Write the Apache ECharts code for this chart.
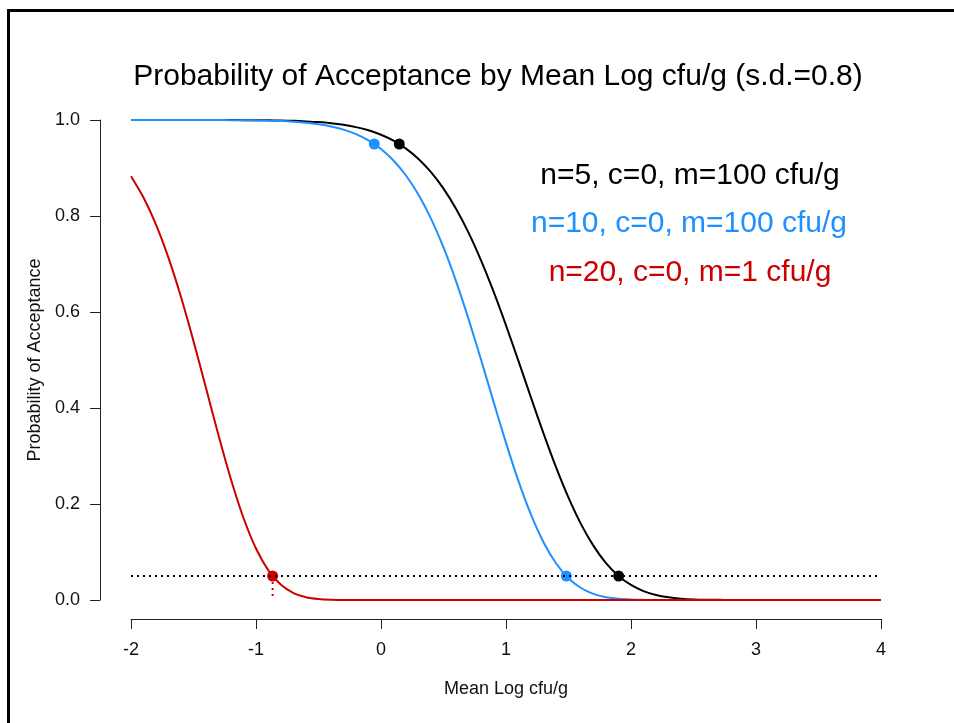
<!DOCTYPE html>
<html>
<head>
<meta charset="utf-8">
<script src="https://cdn.jsdelivr.net/npm/echarts@6/dist/echarts.min.js"></script>
<style>
html,body{margin:0;padding:0;background:#fff;}
#chart{width:954px;height:723px;}
</style>
</head>
<body>
<div id="chart"></div>
<script>
// Mean log cfu/g
const xVals = [-2.0,-1.9,-1.8,-1.7,-1.6,-1.5,-1.4,-1.3,-1.2,-1.1,-1.0,-0.9,-0.8,-0.7,-0.6,-0.5,-0.4,-0.3,-0.2,-0.1,
  0.0,0.1,0.2,0.3,0.4,0.5,0.6,0.7,0.8,0.9,1.0,1.1,1.2,1.3,1.4,1.5,1.6,1.7,1.8,1.9,
  2.0,2.1,2.2,2.3,2.4,2.5,2.6,2.7,2.8,2.9,3.0,3.1,3.2,3.3,3.4,3.5,3.6,3.7,3.8,3.9,4.0];

// n=5, c=0, m=100 cfu/g
const pBlack = [1.0000,1.0000,1.0000,1.0000,1.0000,0.9999,0.9999,0.9999,0.9998,0.9997,0.9996,0.9993,0.9988,0.9982,0.9971,0.9956,0.9933,0.9899,0.9852,0.9785,
  0.9693,0.9569,0.9404,0.9188,0.8913,0.8570,0.8151,0.7654,0.7077,0.6429,0.5722,0.4976,0.4216,0.3470,0.2767,0.2131,0.1581,0.1127,0.0769,0.0502,
  0.0313,0.0185,0.0104,0.0056,0.0028,0.0013,0.0006,0.0003,0.0001,0,0,0,0,0,0,0,0,0,0,0,0];

// n=10, c=0, m=100 cfu/g
const pBlue = [1.0000,1.0000,1.0000,1.0000,1.0000,0.9999,0.9999,0.9998,0.9997,0.9995,0.9991,0.9986,0.9977,0.9963,0.9942,0.9911,0.9866,0.9800,0.9706,0.9575,
  0.9396,0.9157,0.8843,0.8442,0.7944,0.7344,0.6644,0.5857,0.5009,0.4133,0.3274,0.2476,0.1777,0.1204,0.0765,0.0454,0.0250,0.0127,0.0059,0.0025,
  0.0010,0.0003,0.0001,0,0,0,0,0,0,0,0,0,0,0,0,0,0,0,0,0,0];

// n=20, c=0, m=1 cfu/g
const pRed = [0.8829,0.8385,0.7820,0.7127,0.6312,0.5393,0.4415,0.3431,0.2509,0.1708,0.1072,0.0613,0.0316,0.0145,0.0059,0.0021,0.0006,0.0002,0.0000,0,
  0,0,0,0,0,0,0,0,0,0,0,0,0,0,0,0,0,0,0,0,
  0,0,0,0,0,0,0,0,0,0,0,0,0,0,0,0,0,0,0,0,0];

// marked points (95% and 5% acceptance)
const blackPtsX = [0.146, 1.901];
const blackPtsY = [0.95, 0.05];
const bluePtsX = [-0.054, 1.483];
const bluePtsY = [0.95, 0.05];
const redPtsX = [-0.867];
const redPtsY = [0.05];

// 5% acceptance reference line
const refX = [-2, 4];
const refY = [0.05, 0.05];
const redDropX = [-0.867, -0.867];
const redDropY = [0.05, 0.0];

const xTicks = [-2, -1, 0, 1, 2, 3, 4];
const yTicks = [0.0, 0.2, 0.4, 0.6, 0.8, 1.0];

const titleText = 'Probability of Acceptance by Mean Log cfu/g (s.d.=0.8)';
const legendTexts = ['n=5, c=0, m=100 cfu/g', 'n=10, c=0, m=100 cfu/g', 'n=20, c=0, m=1 cfu/g'];

const BLACK = '#000000';
const BLUE = '#1E90FF';
const RED = '#CC0000';
const FONT = "'Liberation Sans', Arial, Helvetica, sans-serif";

const zip = (xs, ys) => xs.map((x, i) => [x, ys[i]]);

const chart = echarts.init(document.getElementById('chart'), null, {renderer: 'canvas'});

function curve(data, color) {
  return {
    type: 'line', data: data, showSymbol: false, symbol: 'none',
    smooth: 0.25,
    lineStyle: {color: color, width: 2}, silent: true
  };
}
function pts(data, color) {
  return {
    type: 'scatter', data: data, symbol: 'circle', symbolSize: 11,
    itemStyle: {color: color, borderWidth: 0, opacity: 1}, silent: true
  };
}

const option = {
  animation: false,
  backgroundColor: '#ffffff',
  grid: {left: 131, right: 73, top: 120, bottom: 123, containLabel: false},
  xAxis: {
    type: 'value', min: -2, max: 4, interval: 1, position: 'bottom', offset: 19,
    axisLine: {show: true, onZero: false, lineStyle: {color: '#222', width: 1}},
    axisTick: {show: true, length: 10, inside: false, lineStyle: {color: '#222', width: 1}},
    axisLabel: {show: true, margin: 22, fontSize: 18, fontFamily: FONT, color: '#111',
      formatter: v => (xTicks.indexOf(v) >= 0 ? String(v) : '')},
    splitLine: {show: false},
    name: 'Mean Log cfu/g', nameLocation: 'middle', nameGap: 61,
    nameTextStyle: {fontSize: 18, fontFamily: FONT, color: '#111'}
  },
  yAxis: {
    type: 'value', min: 0, max: 1, interval: 0.2, position: 'left', offset: 31,
    axisLine: {show: true, onZero: false, lineStyle: {color: '#222', width: 1}},
    axisTick: {show: true, length: 10, inside: false, lineStyle: {color: '#222', width: 1}},
    axisLabel: {show: true, margin: 20, fontSize: 18, fontFamily: FONT, color: '#111',
      formatter: v => v.toFixed(1)},
    splitLine: {show: false},
    name: 'Probability of Acceptance', nameLocation: 'middle', nameGap: 54, nameRotate: 90,
    nameTextStyle: {fontSize: 18, fontFamily: FONT, color: '#111'}
  },
  series: [
    curve(zip(xVals, pBlack), BLACK),
    curve(zip(xVals, pBlue), BLUE),
    curve(zip(xVals, pRed), RED),
    {
      type: 'line', data: zip(refX, refY), symbol: 'none', silent: true,
      lineStyle: {color: BLACK, width: 2, type: [2, 4]}
    },
    {
      type: 'line', data: zip(redDropX, redDropY), symbol: 'none', silent: true,
      lineStyle: {color: RED, width: 2, type: [2, 4]}
    },
    pts(zip(blackPtsX, blackPtsY), BLACK),
    pts(zip(bluePtsX, bluePtsY), BLUE),
    pts(zip(redPtsX, redPtsY), RED)
  ],
  graphic: [
    {type: 'rect', shape: {x: 8.5, y: 10.5, width: 1200, height: 1200},
      style: {fill: 'none', stroke: '#000', lineWidth: 3}, silent: true, z: 100},
    {type: 'text', style: {text: titleText, x: 498, y: 77, font: '30px ' + FONT, fill: '#000',
      textAlign: 'center', align: 'center', textVerticalAlign: 'middle', verticalAlign: 'middle'}},
    {type: 'text', style: {text: legendTexts[0], x: 690, y: 176, font: '30px ' + FONT, fill: BLACK,
      textAlign: 'center', align: 'center', textVerticalAlign: 'middle', verticalAlign: 'middle'}},
    {type: 'text', style: {text: legendTexts[1], x: 689, y: 224, font: '30px ' + FONT, fill: BLUE,
      textAlign: 'center', align: 'center', textVerticalAlign: 'middle', verticalAlign: 'middle'}},
    {type: 'text', style: {text: legendTexts[2], x: 690, y: 273, font: '30px ' + FONT, fill: RED,
      textAlign: 'center', align: 'center', textVerticalAlign: 'middle', verticalAlign: 'middle'}}
  ]
};
chart.setOption(option);
</script>
</body>
</html>
